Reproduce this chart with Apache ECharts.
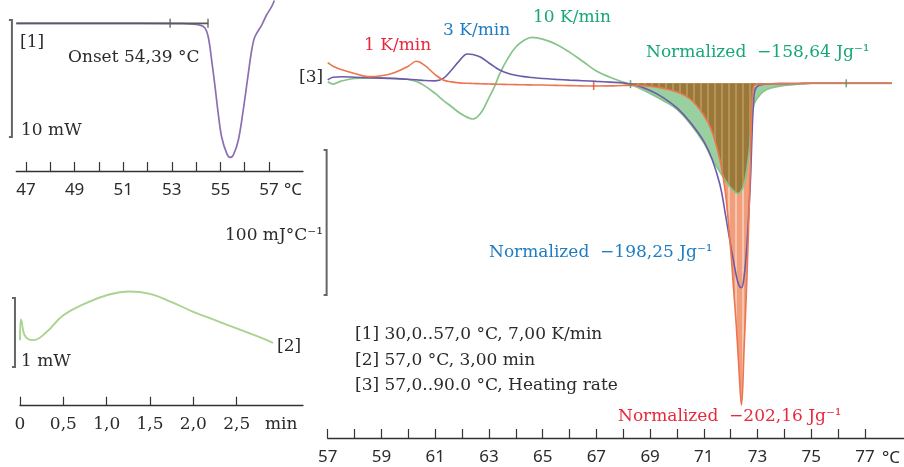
<!DOCTYPE html>
<html>
<head>
<meta charset="utf-8">
<script src="https://cdn.jsdelivr.net/npm/echarts@6/dist/echarts.min.js"></script>
<style>
  html, body { margin: 0; padding: 0; background: #fff; }
  #c { width: 904px; height: 467px; }
</style>
</head>
<body>
<div id="c"></div>
<script>
// ---- [1] heating segment 30..57 °C at 7 K/min: heat flow relative to baseline (mW)
const seg1Temp = [46.6, 50.0, 53.5, 54.16, 54.37, 54.5, 54.64, 54.78, 54.91, 55.05, 55.26, 55.4, 55.53, 55.74, 55.94, 56.15, 56.29, 56.42, 56.7, 56.9, 57.11, 57.22];
const seg1Flow = [0, 0, -0.02, -0.15, -0.43, -1.15, -3.14, -5.42, -7.69, -9.69, -11.11, -11.45, -11.26, -9.97, -7.41, -4.27, -2.28, -1.15, -0.15, 0.71, 1.42, 1.95];
const seg1BaseTemp = [46.6, 54.5];        // onset construction baseline
const seg1Marks = [52.93, 54.49];         // evaluation limits
const seg1Ticks = [47, 48, 49, 50, 51, 52, 53, 54, 55, 56, 57];
const seg1TickLabels = [47, 49, 51, 53, 55, 57];

// ---- [2] isothermal 57 °C for 3 min (mW)
const seg2Time = [0, 0.012, 0.05, 0.1, 0.15, 0.3, 0.5, 0.75, 1.0, 1.25, 1.5, 1.75, 2.0, 2.25, 2.5, 2.75, 2.92];
const seg2Flow = [0.95, 1.25, 1.03, 0.96, 0.95, 1.06, 1.31, 1.48, 1.60, 1.655, 1.62, 1.50, 1.36, 1.24, 1.12, 1.0, 0.91];
const seg2Ticks = [0, 0.5, 1.0, 1.5, 2.0, 2.5];

// ---- [3] 57..90 °C at three heating rates, normalized signal (mJ/°C)
const seg3Temp = [57.0, 57.2, 57.5, 58.0, 58.5, 59.0, 59.5, 60.0, 60.3, 60.6, 61.0, 61.3, 61.6, 61.9, 62.2, 62.4, 62.7, 63.0, 63.2, 63.4, 63.7, 64.0, 64.3, 64.6, 65.0, 65.5, 66.0, 66.5, 67.0, 67.5, 68.0, 68.5, 69.0, 69.5, 70.0, 70.5, 71.0, 71.3, 71.6, 71.8, 72.0, 72.1, 72.2, 72.3, 72.4, 72.5, 72.6, 72.7, 72.75, 72.8, 72.85, 72.9, 73.0, 73.2, 73.5, 74.0, 74.5, 75.0, 76.0, 77.0, 78.0];
const rate1K = [14.2, 11.8, 9.5, 6.8, 4.6, 5.2, 7.5, 11.8, 15.2, 12.5, 6.0, 2.3, 1.0, 0.3, 0, -0.1, -0.3, -0.5, -0.6, -0.7, -0.8, -0.9, -1.0, -1.1, -1.2, -1.4, -1.6, -1.8, -1.9, -1.8, -1.5, -1.4, -2, -3.5, -6, -11, -22, -33, -53, -75, -115, -140, -165, -195, -222, -182, -136, -78, -38, -9, -2.5, -1.2, -0.8, -0.5, -0.3, -0.2, -0.1, 0, 0, 0, 0];
const rate3K = [2.3, 4.2, 4.5, 4.2, 3.9, 3.6, 3.2, 2.8, 2.4, 1.9, 1.7, 3.4, 9.0, 15.5, 20.2, 19.9, 18.0, 14.0, 11.5, 9.2, 7.0, 5.6, 4.6, 4.0, 3.3, 2.7, 2.2, 1.8, 1.3, 0.8, 0.2, -1.5, -5, -10, -17, -27, -40, -52, -70, -90, -112, -122, -132, -139, -141, -133, -112, -80, -60, -32, -13, -5, -2, -0.8, -0.3, -0.2, -0.1, 0, 0, 0, 0];
const rate10K = [1.1, -0.5, 1.5, 3.3, 3.6, 3.7, 3.5, 2.6, 1.3, -1.6, -7, -11.8, -16, -20.3, -23.5, -24.6, -20.5, -10, -2.7, 6.5, 17, 25, 29.5, 31.7, 30.5, 27, 21.5, 15, 8.5, 4.2, 0.8, -2.5, -7, -12, -18, -28, -41, -52, -61, -67, -72, -74, -75.5, -76, -74, -69, -60, -45, -35, -22, -16, -13, -10, -5.8, -3.2, -1.5, -0.5, 0, 0, 0, 0];
const peakFrom = 68.0;                     // start of the integrated melting range
const rate1KMarks = [[66.9, -1.9]];
const rate10KMarks = [[68.27, -0.6], [76.3, 0]];
const seg3Ticks = [57, 58, 59, 60, 61, 62, 63, 64, 65, 66, 67, 68, 69, 70, 71, 72, 73, 74, 75, 76, 77];
const seg3TickLabels = [57, 59, 61, 63, 65, 67, 69, 71, 73, 75, 77];

// scale bars: [x position, top value, length] in each panel's data units
const seg1ScaleBar = [46.42, 0.28, 10];
const seg2ScaleBar = [-0.058, 1.561, 1];
const seg3ScaleBar = [56.96, -46, 100];

const SERIF = '"DejaVu Serif", serif';
const SANS = '"Noto Sans", sans-serif';
const INK = '#2b2b2b';
const RED = '#e8283c', BLUE = '#1f7cc0', GREEN = '#17a67a';
const SMOOTH = 0.4;

const zip = (xs, ys) => xs.map((x, i) => [x, ys[i]]);
const below = v => Math.min(v, 0);
const peakIdx = seg3Temp.map((t, i) => i).filter(i => seg3Temp[i] >= peakFrom);
const redFill = peakIdx.map(i => [seg3Temp[i], below(rate1K[i])]);
const greenFill = peakIdx.map(i => [seg3Temp[i], below(rate10K[i])]);
const sharedFill = peakIdx.map(i => [seg3Temp[i], Math.max(below(rate1K[i]), below(rate10K[i]))]);

function xAxisFor(gridIndex, min, max, ticks, labels, fmt, family, margin) {
  return {
    type: 'value', gridIndex, min, max,
    axisLine: { show: true, onZero: false, lineStyle: { color: '#333', width: 1.3 } },
    axisTick: { show: true, inside: true, length: 9, customValues: ticks, lineStyle: { color: '#333', width: 1.2 } },
    axisLabel: { customValues: labels, formatter: fmt, margin, fontFamily: family, fontSize: 17, color: INK },
    splitLine: { show: false }
  };
}
function yAxisFor(gridIndex, min, max) {
  return { type: 'value', gridIndex, min, max, show: false, splitLine: { show: false } };
}
const stripes = color => ({ symbol: 'rect', symbolSize: 1, color, dashArrayX: [2, 5], dashArrayY: [10, 0], rotation: 0 });
const curve = (data, color, width, z) => ({
  type: 'line', xAxisIndex: 2, yAxisIndex: 2, data, showSymbol: false, smooth: SMOOTH,
  lineStyle: { color, width }, z
});
const fill = (data, color, decalColor, z) => ({
  type: 'line', xAxisIndex: 2, yAxisIndex: 2, data, showSymbol: false, smooth: SMOOTH,
  lineStyle: { width: 0 }, areaStyle: { color, opacity: 1 },
  itemStyle: decalColor ? { color, decal: stripes(decalColor) } : { color }, z
});

const option = {
  animation: false,
  backgroundColor: '#fff',
  grid: [
    { left: 16.3, top: 0, width: 286.7, height: 171 },
    { left: 20, top: 285, width: 283, height: 120.7 },
    { left: 327.7, top: 10, width: 576.3, height: 428 }
  ],
  xAxis: [
    xAxisFor(0, 46.6, 58.4, seg1Ticks, seg1TickLabels, v => String(v), SANS, 11),
    xAxisFor(1, 0, 3.265, seg2Ticks, seg2Ticks, v => (v === 0 ? '0' : v.toFixed(1).replace('.', ',')), SERIF, 10),
    xAxisFor(2, 57, 78.45, seg3Ticks, seg3TickLabels, v => String(v), SANS, 11)
  ],
  yAxis: [
    yAxisFor(0, -12.62, 1.99),
    yAxisFor(1, 0, 1.749),
    yAxisFor(2, -244.6, 50.55)
  ],
  series: [
    // [1]
    { type: 'line', xAxisIndex: 0, yAxisIndex: 0, data: zip(seg1Temp, seg1Flow), showSymbol: false,
      smooth: 0.35, lineStyle: { color: '#8b6fb2', width: 1.7 } },
    { type: 'line', xAxisIndex: 0, yAxisIndex: 0, data: seg1BaseTemp.map(t => [t, 0]), showSymbol: false,
      lineStyle: { color: '#5a5a5a', width: 1.8 } },
    { type: 'scatter', xAxisIndex: 0, yAxisIndex: 0, data: seg1Marks.map(t => [t, 0]), symbol: 'rect',
      symbolSize: [1.4, 9], itemStyle: { color: '#444' } },
    // [2]
    { type: 'line', xAxisIndex: 1, yAxisIndex: 1, data: zip(seg2Time, seg2Flow), showSymbol: false,
      smooth: 0.45, lineStyle: { color: '#a9d38f', width: 1.9 } },
    // [3] filled melting peaks
    fill(greenFill, '#98d0a0', null, 1),
    fill(redFill, '#f09e7c', 'rgba(255,236,224,0.5)', 2),
    fill(sharedFill, '#9a783c', 'rgba(215,180,110,0.45)', 3),
    // [3] curves
    curve(zip(seg3Temp, rate10K), '#86c48a', 1.7, 4),
    curve(zip(seg3Temp, rate3K), '#6d5aaa', 1.6, 5),
    curve(zip(seg3Temp, rate1K), '#ec7650', 1.6, 6),
    { type: 'scatter', xAxisIndex: 2, yAxisIndex: 2, data: rate1KMarks, symbol: 'rect', symbolSize: [1.6, 8],
      itemStyle: { color: '#d8502e' }, z: 7 },
    { type: 'scatter', xAxisIndex: 2, yAxisIndex: 2, data: rate10KMarks, symbol: 'rect', symbolSize: [1.6, 8],
      itemStyle: { color: '#5e8e58' }, z: 7 }
  ]
};

const chart = echarts.init(document.getElementById('c'));
chart.setOption(option);

function text(str, x, y, opts) {
  const o = opts || {};
  return {
    type: 'text', x, y, z: 100,
    style: {
      text: str, fill: o.color || INK,
      font: (o.size || 17) + 'px ' + (o.family || SERIF),
      textAlign: o.align || 'left', textVerticalAlign: 'middle'
    }
  };
}
function scaleBar(gridIndex, bar) {
  const [x, top, len] = bar;
  const p1 = chart.convertToPixel({ gridIndex }, [x, top]);
  const p2 = chart.convertToPixel({ gridIndex }, [x, top - len]);
  return {
    type: 'polyline', z: 100,
    shape: { points: [[p1[0] - 3, p1[1]], [p1[0], p1[1]], [p2[0], p2[1]], [p2[0] - 3, p2[1]]] },
    style: { stroke: '#666', lineWidth: 2, fill: null }
  };
}

chart.setOption({
  graphic: [
    scaleBar(0, seg1ScaleBar),
    scaleBar(1, seg2ScaleBar),
    scaleBar(2, seg3ScaleBar),
    text('[1]', 20, 43),
    text('Onset 54,39 °C', 68, 58),
    text('10 mW', 21, 131),
    text('°C', 284, 190, { family: SANS }),
    text('1 mW', 21, 362),
    text('[2]', 277, 347),
    text('min', 265, 425),
    text('100 mJ°C⁻¹', 225, 236),
    text('[3]', 299, 78),
    text('1 K/min', 364, 46, { color: RED }),
    text('3 K/min', 443, 31, { color: BLUE }),
    text('10 K/min', 533, 18, { color: GREEN }),
    text('Normalized  −158,64 Jg⁻¹', 646, 53, { color: GREEN }),
    text('Normalized  −198,25 Jg⁻¹', 489, 253, { color: BLUE }),
    text('Normalized  −202,16 Jg⁻¹', 618, 417, { color: RED }),
    text('[1] 30,0..57,0 °C, 7,00 K/min', 355, 335),
    text('[2] 57,0 °C, 3,00 min', 355, 361),
    text('[3] 57,0..90.0 °C, Heating rate', 355, 386),
    text('°C', 882, 458, { family: SANS })
  ]
});
</script>
</body>
</html>
